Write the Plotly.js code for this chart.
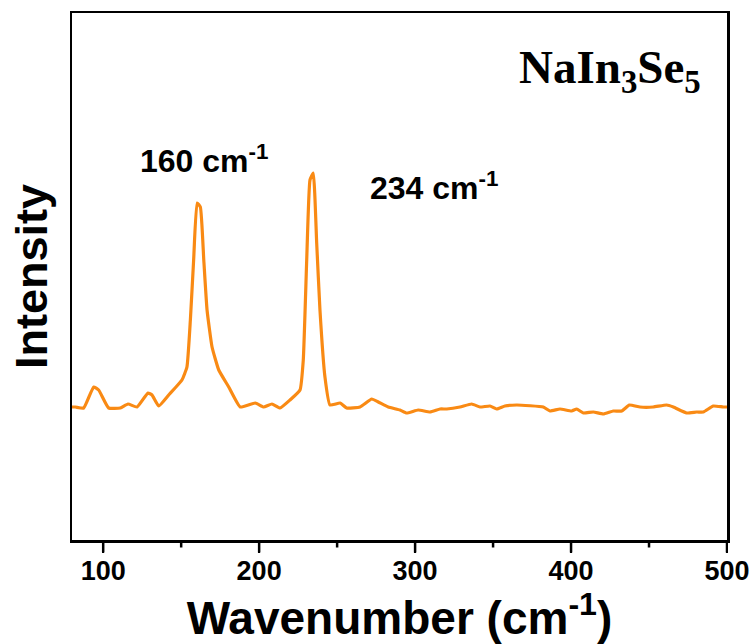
<!DOCTYPE html>
<html>
<head>
<meta charset="utf-8">
<script src="https://cdn.plot.ly/plotly-3.0.1.min.js"></script>
<style>html,body{margin:0;padding:0;background:#fff;}#chart{width:752px;height:644px;}</style>
</head>
<body>
<div id="chart"></div>
<script>
var wavenumber = [80, 82.1, 87.5, 93.9, 97.1, 103.5, 111, 115.9, 121.7, 128.7, 131.3, 135.6, 142, 150.5, 153.7, 155.9, 158, 160.2, 162.3, 164.5, 166.6, 169.8, 174.1, 180.5, 187.9, 197.5, 202.9, 208.2, 213.4, 219.8, 226.2, 228.3, 230.5, 232.6, 234.7, 236.9, 239, 242.2, 245.4, 251.9, 256.1, 264.7, 272.2, 276.4, 282.8, 290.3, 294.6, 302, 309.6, 316, 320.3, 328.8, 336.3, 341.6, 348, 352.3, 357.6, 365.2, 382.2, 386.5, 392.9, 400.4, 403.6, 407.9, 414.3, 420.7, 427.1, 432.5, 437.4, 444.2, 452.7, 461.3, 465.6, 474.1, 480.6, 484.8, 491.2, 497.6, 500];
var intensity = [133, 133, 132, 153, 150, 132, 132, 136, 133, 147, 145, 134, 145, 160, 173, 220, 280, 337, 333, 280, 230, 193, 170, 153, 133, 137, 133, 136, 132, 140, 150, 180, 280, 360, 367, 297, 230, 163, 135, 137, 132, 133, 141, 138, 133, 130, 127, 130, 128, 131, 131, 133, 136, 133, 134, 131, 134, 135, 133, 129, 131, 129, 131, 127, 128, 126, 129, 129, 135, 133, 133, 135, 133, 127, 128, 128, 134, 133, 133];
var xTickVals = [100, 200, 300, 400, 500];
var xTickText = ['100', '200', '300', '400', '500'];
var xMinorTickVals = [150, 250, 350, 450];
var peakLabels = ['160 cm<sup>-1</sup>', '234 cm<sup>-1</sup>'];
var peakLabelX = [122.3, 269.8];
var peakLabelY = [381, 354];
var sampleName = 'NaIn<sub>3</sub>Se<sub>5</sub>';

var sans = 'Liberation Sans, Arial, sans-serif';
var serif = 'Liberation Serif, Times New Roman, serif';

var trace = {
  x: wavenumber, y: intensity, type: 'scatter', mode: 'lines',
  line: {color: '#f98a14', width: 3.2, shape: 'spline', smoothing: 0.4}, hoverinfo: 'skip'
};

var annotations = peakLabels.map(function(t, i){
  return {x: peakLabelX[i], y: peakLabelY[i], xref: 'x', yref: 'y', text: t, showarrow: false,
    xanchor: 'left', yanchor: 'middle', font: {family: sans, size: 32, color: '#000', weight: 'bold'}};
});
annotations.push({x: 0.963, y: 470, xref: 'paper', yref: 'y', text: sampleName, showarrow: false,
  xanchor: 'right', yanchor: 'middle', font: {family: serif, size: 47, color: '#000', weight: 'bold'}});

// tick marks below the bottom axis, placed through the x axis scale
var plotHeightPx = 527;
function tickShape(v, lenPx) {
  return {type: 'line', xref: 'x', yref: 'paper', x0: v, x1: v, y0: 0, y1: -lenPx / plotHeightPx,
    line: {color: '#000', width: 2.5}, layer: 'above'};
}
var shapes = xTickVals.map(function(v){ return tickShape(v, 12.5); })
  .concat(xMinorTickVals.map(function(v){ return tickShape(v, 7.5); }));

var layout = {
  width: 752, height: 644,
  margin: {l: 72, r: 25, t: 13, b: 104},
  paper_bgcolor: '#fff', plot_bgcolor: '#fff',
  showlegend: false,
  xaxis: {
    range: [80, 500], tickmode: 'array', tickvals: xTickVals, ticktext: xTickText,
    ticks: 'outside', ticklen: 10, tickwidth: 2.5, tickcolor: '#000',
    showline: true, linewidth: 2.5, linecolor: '#000', mirror: true,
    showgrid: false, zeroline: false,
    ticklabelstandoff: -5,
    tickfont: {family: sans, size: 27, color: '#000', weight: 'bold'},
    title: {text: 'Wavenumber (cm<sup>-1</sup>)', font: {family: sans, size: 46, color: '#000', weight: 'bold'}, standoff: 6},
    automargin: 'bottom'
  },
  yaxis: {
    range: [0, 527], showticklabels: false, ticks: '',
    showline: true, linewidth: 2.5, linecolor: '#000', mirror: true,
    showgrid: false, zeroline: false,
    title: {text: 'Intensity', font: {family: sans, size: 45, color: '#000', weight: 'bold'}, standoff: 8},
    automargin: 'left'
  },
  shapes: shapes,
  annotations: annotations
};

Plotly.newPlot('chart', [trace], layout, {displayModeBar: false, staticPlot: true});
</script>
</body>
</html>
